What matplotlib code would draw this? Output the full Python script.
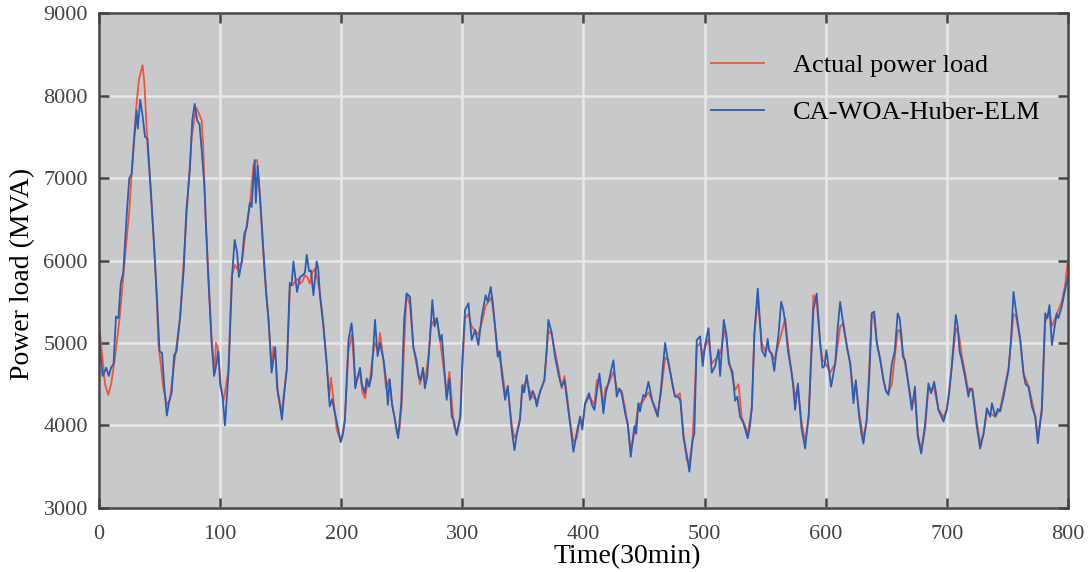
import numpy as np
import matplotlib
matplotlib.use('Agg')
import matplotlib.pyplot as plt

# actual power load (time index, MVA)
t_act = [0, 3, 5, 7.7, 10, 13, 17, 21.5, 25, 28, 31, 33, 36, 37.5, 40, 43, 46, 47.6, 49, 53,
         56, 58.6, 60, 62.8, 67, 72.4, 76.5, 79, 80.5, 82, 84.8, 86, 88, 90.3, 93, 95.8, 96.5, 98, 100.5, 102.7,
         104, 106.8, 109.5, 112, 114, 116, 118, 120.6, 124.7, 127.5, 129, 130.5, 133, 136, 139.8, 142.6, 144, 146, 148, 150.5,
         152, 155, 157.7, 160, 162, 164, 166, 168, 170, 172, 174, 176, 178, 180, 182.5, 185.2, 188, 190, 191.5, 194,
         196.3, 199.8, 203, 205.9, 208.6, 211.4, 213, 215.5, 217.5, 219.7, 221.5, 223.8, 226, 228, 230.6, 232, 234.8, 237, 239.7, 241.5,
         243.8, 246, 248, 250, 252, 254, 256.8, 259.5, 262, 265, 267.6, 269.2, 272, 274, 276, 278.8, 281.6, 284.3, 287, 289.3,
         291.2, 293, 295.3, 298, 300, 302.2, 305, 307.7, 310.5, 313.2, 316, 319.2, 321.5, 323.4, 325, 327, 329.2, 332.5, 335.3, 337.5,
         340.8, 343, 345, 347.6, 349.5, 353.1, 355.9, 358, 361.4, 364.1, 367.7, 371, 373.8, 376.5, 379.8, 382, 384.3, 386.5, 388.9, 391.7,
         394.5, 397.2, 399, 401.3, 404.6, 407, 409, 411, 413.1, 416.4, 418, 420.5, 424.7, 427.5, 431.6, 434.4, 436.6, 439, 442, 445.3,
         449.4, 453.6, 456.9, 461.3, 464, 467.4, 470, 472.2, 475.6, 479.6, 482.5, 485.2, 487.4, 490, 493.5, 496.3, 498.4, 500.4, 503.2, 505.9,
         508.7, 511.5, 513.5, 515.8, 517, 520, 525.2, 528, 530.6, 533.3, 535.6, 539, 541.1, 543.9, 547.2, 550, 552, 555.3, 557.5, 559.4,
         563.2, 566.5, 568.7, 571.9, 574.7, 577, 580, 583, 586, 589.8, 592.5, 595.4, 597.3, 600, 603.6, 607.8, 611.9, 614.7, 617.5, 620.2,
         622.9, 624.8, 627.6, 631.1, 633.8, 638, 640, 642.2, 645, 647.7, 650, 651.8, 654.6, 659.4, 661, 663.7, 667.8, 671.1, 673.6, 676,
         678.8, 682, 684.8, 687, 689.5, 693, 697.2, 700, 704, 707.4, 710, 712.3, 715, 717.8, 721, 724.7, 727.5, 730.3, 733, 735.8,
         740, 744, 746.8, 750.9, 755, 757, 760.6, 763.3, 767.4, 770.2, 773, 775.1, 778.4, 781.2, 784.7, 786.7, 790.7, 794.8, 797.6, 800]
y_act = [5250, 4800, 4500, 4370, 4500, 4800, 5300, 6050, 6600, 7300, 7900, 8200, 8370, 8150, 7400, 6800, 6050, 5560, 5000, 4470,
         4250, 4310, 4500, 4834, 5320, 6575, 7500, 7750, 7850, 7800, 7700, 7400, 6500, 5850, 5036, 4650, 5000, 4950, 4500, 4300,
         4400, 4670, 5800, 5950, 5900, 5950, 5980, 6300, 6700, 7150, 7200, 7220, 6750, 6000, 5300, 4700, 4955, 4800, 4350, 4150,
         4300, 4670, 5700, 5700, 5750, 5780, 5720, 5750, 5820, 5800, 5720, 5850, 5900, 5800, 5600, 5240, 4750, 4350, 4580, 4250,
         3950, 3800, 4067, 4900, 5100, 4600, 4550, 4650, 4400, 4330, 4500, 4570, 4850, 5000, 4900, 5120, 4790, 4450, 4560, 4300,
         4107, 3900, 3950, 4270, 5000, 5600, 5450, 4950, 4750, 4500, 4650, 4550, 4834, 5200, 5260, 5300, 5036, 4713, 4400, 4650,
         4300, 4000, 3900, 4107, 4700, 5300, 5350, 5200, 5150, 5100, 5250, 5450, 5500, 5550, 5450, 5200, 4900, 4700, 4400, 4450,
         4000, 3850, 3900, 4100, 4450, 4550, 4400, 4350, 4300, 4400, 4550, 5150, 5100, 4900, 4650, 4450, 4600, 4350, 4050, 3800,
         3850, 4100, 4000, 4250, 4350, 4300, 4250, 4550, 4550, 4200, 4450, 4500, 4650, 4450, 4420, 4200, 4000, 3700, 3900, 4250,
         4300, 4400, 4300, 4150, 4400, 4820, 4800, 4600, 4350, 4390, 3900, 3580, 3550, 3800, 4950, 5000, 4850, 4950, 5050, 4750,
         4800, 4850, 4900, 5100, 5160, 4800, 4430, 4500, 4100, 4000, 3900, 4200, 5100, 5550, 5000, 4900, 4950, 4870, 4800, 4900,
         5100, 5300, 5000, 4630, 4350, 4450, 4050, 3800, 4100, 5580, 5500, 5000, 4800, 4750, 4640, 4750, 5200, 5240, 4955, 4750,
         4400, 4500, 4150, 3850, 4050, 5360, 5300, 5000, 4800, 4550, 4400, 4400, 4500, 5150, 5160, 4900, 4550, 4250, 4350, 3900,
         3700, 3950, 4450, 4450, 4450, 4200, 4100, 4200, 4700, 5180, 5100, 4850, 4650, 4400, 4450, 4050, 3780, 3900, 4150, 4150,
         4107, 4200, 4400, 4700, 5350, 5330, 5036, 4630, 4480, 4300, 4100, 3880, 4150, 5250, 5400, 5200, 5350, 5500, 5700, 6000]

# CA-WOA-Huber-ELM prediction
t_pred = [0, 3, 6, 8, 10, 12, 14, 16, 18, 20, 23, 25, 27, 29, 31, 32, 34, 36, 38, 40,
          42, 45, 48, 50, 52, 54, 56, 58, 60, 62, 64, 67, 70, 72, 75, 77, 79, 81, 83, 85,
          87, 90, 93, 95, 97, 98.5, 100, 102, 104, 107, 110, 112, 114, 115.5, 118, 120, 122, 124.5, 126, 128.5,
          129.5, 131, 133, 136, 138, 140, 142.5, 144, 145.5, 147, 149, 151, 153, 155, 157.5, 159, 160.5, 162, 163.5, 166,
          168, 170, 171.5, 173.5, 175, 177, 179.7, 181, 182.5, 185, 188, 190.5, 192.5, 194, 196.5, 199.5, 201.5, 203, 206, 208.5,
          210, 211.5, 213, 215.5, 217, 219.5, 221, 223, 225, 227.9, 230, 232, 235, 237, 238.5, 240, 242, 244, 247, 249.5,
          252, 254, 256.8, 259.5, 262, 264, 265.5, 267.5, 269, 271, 273, 275.2, 277, 279, 281.6, 283, 285, 287, 289.3, 291.2,
          293, 295.3, 297, 298.5, 300, 302.2, 305, 307.7, 310.5, 313.2, 316, 319.2, 321, 323.4, 325, 327, 329.2, 331, 332.5, 335.3,
          337.5, 340.8, 343, 345, 347.6, 349.5, 351, 353.1, 355.9, 358, 360, 361.4, 364.1, 367.7, 369.5, 371, 373.8, 376.5, 379.8, 382,
          384.3, 386.5, 388.9, 391.7, 394.5, 397.2, 399, 401.3, 404.6, 407, 409, 411, 413.1, 415, 416.4, 418.5, 420.5, 422.5, 424.7, 427.5,
          429.5, 431.6, 434.4, 436.6, 439, 442, 443.5, 445.3, 446.6, 449.4, 451, 453.6, 456.9, 459, 461.3, 464, 465.5, 467.4, 469.5, 472.2,
          474, 475.6, 478, 480, 482.5, 485.2, 487.4, 490, 491.5, 493.5, 496.3, 498.4, 500.4, 503.2, 505.9, 508.7, 511.5, 512.8, 515.8, 518,
          520, 523, 525.2, 527, 529.3, 532, 535.6, 537.5, 539, 541.1, 543.9, 547.2, 550, 552, 553.5, 555.3, 557.5, 559.4, 561, 563.2,
          565, 566.5, 568.7, 571.9, 573, 574.7, 577, 580, 583, 586, 588, 589.8, 592.5, 595.4, 597.3, 599, 600.5, 602, 604.4, 607.8,
          610, 611.9, 614.7, 617.5, 620.2, 622.9, 624.8, 627.6, 629.5, 631.1, 633.8, 636, 638, 640, 642.2, 645, 647.7, 649.5, 651.8, 654.6,
          657, 659.4, 661, 662.7, 663.7, 665.5, 667.8, 671.1, 673.6, 676, 678.8, 682, 684.8, 687, 689.5, 691, 693, 697.2, 700, 702,
          704, 707.4, 709, 710.5, 712.3, 715, 717.8, 719, 721, 723, 724.7, 727.5, 730.3, 733, 735.8, 737.2, 740, 742, 744, 746.8,
          750.9, 753, 755, 757, 760.6, 763.3, 765, 767.4, 770.2, 773, 775.1, 778.4, 781.2, 783, 784.7, 786.7, 790.7, 792, 794.8, 797.6,
          800]
y_pred = [5050, 4600, 4700, 4600, 4700, 4750, 5320, 5300, 5730, 5850, 6580, 7000, 7050, 7460, 7820, 7600, 7950, 7750, 7500, 7480,
          7020, 6300, 5500, 4900, 4880, 4450, 4120, 4300, 4400, 4850, 4900, 5320, 5900, 6580, 7100, 7700, 7900, 7700, 7650, 7300,
          6900, 5850, 5000, 4600, 4750, 4900, 4500, 4350, 4000, 4670, 5850, 6250, 6100, 5800, 6000, 6330, 6400, 6700, 6650, 7220,
          6700, 7150, 6750, 6050, 5600, 5280, 4640, 4800, 4950, 4450, 4300, 4070, 4400, 4680, 5730, 5700, 5990, 5800, 5620, 5800,
          5820, 5850, 6070, 5870, 5880, 5580, 5990, 5900, 5560, 5240, 4750, 4230, 4320, 4200, 4030, 3800, 3900, 4070, 5040, 5240,
          5000, 4450, 4550, 4700, 4500, 4390, 4570, 4470, 4600, 5280, 4840, 5000, 4790, 4550, 4250, 4560, 4250, 4100, 3845, 4270,
          5300, 5600, 5560, 4950, 4800, 4600, 4550, 4700, 4450, 4600, 5000, 5520, 5200, 5300, 5030, 5100, 4700, 4310, 4570, 4107,
          4060, 3885, 4000, 4107, 4800, 5400, 5480, 5036, 5160, 4975, 5320, 5580, 5500, 5680, 5500, 5200, 4834, 4900, 4630, 4310,
          4480, 3945, 3700, 3900, 4067, 4490, 4400, 4612, 4310, 4420, 4350, 4230, 4410, 4550, 4900, 5280, 5120, 4834, 4590, 4470,
          4550, 4300, 4027, 3680, 3920, 4107, 3950, 4270, 4390, 4250, 4190, 4400, 4630, 4400, 4148, 4400, 4510, 4650, 4790, 4350,
          4450, 4380, 4148, 4010, 3620, 3990, 3900, 4270, 4170, 4370, 4350, 4530, 4290, 4200, 4107, 4450, 4700, 5000, 4800, 4600,
          4450, 4350, 4350, 4300, 3860, 3650, 3440, 3820, 3900, 5036, 5080, 4720, 4975, 5180, 4640, 4720, 4920, 4600, 5280, 5100,
          4750, 4650, 4300, 4350, 4107, 4030, 3845, 4000, 4230, 5120, 5660, 4915, 4834, 5050, 4900, 4870, 4660, 4915, 5100, 5500,
          5400, 5250, 4915, 4630, 4500, 4190, 4510, 3965, 3720, 4150, 4800, 5400, 5600, 5000, 4700, 4720, 4915, 4750, 4470, 4750,
          5200, 5500, 5200, 4955, 4750, 4270, 4550, 4107, 3900, 3780, 4067, 4600, 5360, 5380, 5000, 4790, 4550, 4430, 4370, 4750,
          4900, 5360, 5300, 5060, 4834, 4790, 4550, 4190, 4470, 3865, 3660, 4010, 4510, 4390, 4530, 4400, 4190, 4050, 4190, 4400,
          4710, 5340, 5200, 4900, 4790, 4590, 4350, 4450, 4430, 4200, 3985, 3720, 3900, 4210, 4107, 4270, 4107, 4200, 4170, 4350,
          4670, 5036, 5620, 5400, 5036, 4630, 4500, 4470, 4230, 4107, 3785, 4210, 5360, 5300, 5460, 4975, 5360, 5300, 5440, 5640,
          5800]

x_ticks = [0, 100, 200, 300, 400, 500, 600, 700, 800]
y_ticks = [3000, 4000, 5000, 6000, 7000, 8000, 9000]

plt.rcParams['font.family'] = ['Liberation Serif', 'DejaVu Serif']

fig = plt.figure(figsize=(10.88, 5.72), dpi=100)
ax = fig.add_axes([0.091, 0.112, 0.8906, 0.865])
ax.set_facecolor('#c8c9cb')

ax.plot(t_act, y_act, color='#f2543a', lw=1.3, label='Actual power load')
ax.plot(t_pred, y_pred, color='#2a5db3', lw=1.3, label='CA-WOA-Huber-ELM')

ax.set_xlim(0, 800)
ax.set_ylim(3000, 9000)
ax.set_xticks(x_ticks)
ax.set_yticks(y_ticks)
ax.grid(True, color='#e8e8e8', lw=1.8)
ax.set_axisbelow(True)

for s in ax.spines.values():
    s.set_color('#444444')
    s.set_linewidth(1.8)
ax.tick_params(direction='in', length=7, width=1.8, color='#444444', pad=8,
               top=True, right=True, labelsize=16, labelcolor='#444444')
ax.tick_params(axis='x', pad=12)

ax.set_xlabel('Time(30min)', fontsize=20)
ax.set_ylabel('Power load (MVA)', fontsize=20)
ax.xaxis.set_label_coords(0.545, -0.074)
ax.yaxis.set_label_coords(-0.066, 0.473)

ax.legend(loc='upper left', frameon=False, fontsize=19, handlelength=2.0,
          handletextpad=1.1, labelspacing=0.88, borderpad=0, borderaxespad=0,
          bbox_to_anchor=(0.632, 0.918))

fig.savefig('out.png', dpi=100)
